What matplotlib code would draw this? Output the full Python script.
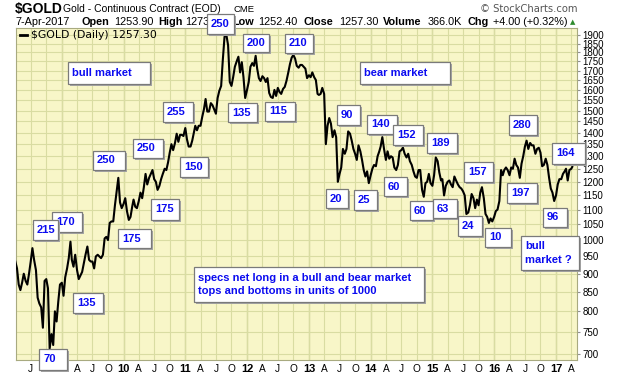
import matplotlib
matplotlib.use('Agg')
import matplotlib.pyplot as plt
from matplotlib.patches import Rectangle
from matplotlib.lines import Line2D
from matplotlib.ticker import FixedLocator, NullLocator
import pandas as pd

# Gold continuous contract, roughly the 1st, 11th and 21st of each month
gold_2008 = [935, 915, 870, 855, 875, 900, 880, 870, 900, 935, 975, 940,
             910, 835, 820, 810, 760, 880, 885, 860, 712, 745, 720, 800,
             775, 825, 870]
gold_2009 = [875, 840, 890, 915, 945, 995, 940, 920, 955, 910, 885, 895,
             905, 930, 955, 980, 940, 935, 935, 915, 950, 955, 950, 945,
             955, 1005, 1010, 1000, 1055, 1060, 1060, 1115, 1165, 1215, 1125, 1105]
gold_2010 = [1120, 1140, 1095, 1065, 1075, 1110, 1135, 1110, 1105, 1130, 1160, 1140,
             1180, 1230, 1190, 1215, 1230, 1245, 1210, 1200, 1170, 1185, 1210, 1230,
             1250, 1245, 1275, 1315, 1350, 1325, 1355, 1395, 1360, 1390, 1390, 1385]
gold_2011 = [1420, 1370, 1340, 1340, 1365, 1400, 1430, 1410, 1430, 1430, 1470, 1505,
             1555, 1495, 1495, 1535, 1525, 1505, 1485, 1560, 1595, 1620, 1760, 1890,
             1900, 1840, 1640, 1620, 1665, 1720, 1750, 1775, 1690, 1745, 1665, 1560]
gold_2012 = [1600, 1640, 1720, 1740, 1725, 1780, 1710, 1660, 1645, 1670, 1660, 1640,
             1660, 1585, 1565, 1560, 1600, 1570, 1610, 1590, 1580, 1605, 1615, 1645,
             1690, 1735, 1770, 1785, 1765, 1725, 1715, 1730, 1730, 1720, 1710, 1660]
gold_2013 = [1675, 1665, 1690, 1665, 1650, 1580, 1575, 1580, 1610, 1580, 1350, 1430,
             1465, 1440, 1380, 1410, 1380, 1200, 1230, 1255, 1330, 1310, 1330, 1405,
             1395, 1365, 1330, 1310, 1285, 1345, 1320, 1285, 1245, 1220, 1240, 1195]
gold_2014 = [1225, 1250, 1265, 1260, 1300, 1320, 1340, 1380, 1330, 1285, 1320, 1290,
             1300, 1295, 1255, 1245, 1265, 1320, 1325, 1335, 1310, 1295, 1310, 1280,
             1265, 1240, 1220, 1215, 1245, 1245, 1170, 1145, 1195, 1200, 1230, 1195]
gold_2015 = [1185, 1225, 1295, 1280, 1235, 1205, 1210, 1150, 1185, 1200, 1205, 1190,
             1180, 1220, 1205, 1190, 1180, 1175, 1165, 1150, 1085, 1090, 1115, 1155,
             1140, 1105, 1135, 1115, 1160, 1180, 1140, 1085, 1075, 1055, 1070, 1060]
gold_2016 = [1075, 1095, 1100, 1130, 1245, 1225, 1245, 1255, 1245, 1225, 1255, 1250,
             1290, 1265, 1255, 1215, 1270, 1300, 1340, 1365, 1330, 1355, 1345, 1345,
             1310, 1330, 1335, 1315, 1260, 1265, 1290, 1265, 1215, 1175, 1160, 1130]
gold_2017 = [1150, 1190, 1210, 1210, 1230, 1240, 1250, 1205, 1245, 1250, 1257.3]

prices = gold_2008 + gold_2009 + gold_2010 + gold_2011 + gold_2012 + \
    gold_2013 + gold_2014 + gold_2015 + gold_2016 + gold_2017
months = pd.date_range('2008-04-01', '2017-03-01', freq='MS')
dates = [m + pd.Timedelta(days=d) for m in months for d in (0, 10, 20)]
dates += [pd.Timestamp('2017-04-01'), pd.Timestamp('2017-04-07')]

# annotation boxes: text, then box in pixels (left, top, width, height)
box_texts = ['250', '200', '210', 'bull market', 'bear market', '255', '135', '115',
             '90', '140', '152', '189', '280', '164', '157', '250', '250', '150',
             '20', '25', '60', '60', '63', '24', '10', '197', '96', '175', '175',
             '170', '215', '135', '70', 'bull\nmarket ?',
             'specs net long in a bull and bear market\ntops and bottoms in units of 1000']
box_pos = [(207, 14, 27, 20), (243, 34, 26, 18), (285, 34, 28, 19), (68, 62, 82, 22),
           (360, 62, 90, 22), (163, 102, 30, 20), (228, 103, 29, 19), (265, 102, 30, 19),
           (337, 105, 23, 20), (367, 115, 30, 19), (393, 125, 30, 20), (427, 133, 30, 20),
           (509, 115, 28, 20), (552, 143, 33, 21), (464, 162, 29, 20), (93, 151, 32, 19),
           (133, 139, 30, 19), (180, 157, 28, 20), (326, 189, 22, 19), (354, 190, 23, 20),
           (384, 177, 23, 19), (410, 201, 23, 19), (433, 199, 24, 19), (458, 216, 24, 20),
           (485, 228, 26, 19), (507, 183, 30, 20), (543, 208, 24, 19), (151, 199, 28, 21),
           (118, 229, 33, 19), (52, 212, 30, 20), (33, 220, 25, 20), (73, 293, 30, 20),
           (39, 349, 28, 21), (521, 236, 58, 34), (194, 267, 230, 35)]

W, H = 620, 376
fig = plt.figure(figsize=(6.2, 3.76), dpi=100)
fig.patch.set_facecolor('white')


def fx(x):
    return x / W


def fy(y):
    return 1 - y / H


ax = fig.add_axes([fx(16), fy(360), (577 - 16) / W, (360 - 28) / H])
ax.set_facecolor('#f8f6c8')
ax.plot(dates, prices, color='black', lw=1.5, zorder=3)

ax.set_yscale('log')
ax.set_ylim(687, 1942)
ax.set_xlim(pd.Timestamp('2008-04-05'), pd.Timestamp('2017-05-05'))

yt = list(range(700, 1901, 50))
ax.yaxis.set_major_locator(FixedLocator(yt))
ax.yaxis.set_minor_locator(NullLocator())
ax.yaxis.tick_right()
ax.set_yticklabels([str(v) for v in yt], family='Liberation Sans', fontsize=7)
ax.tick_params(axis='y', direction='out', length=2, pad=2, color='#909090')

qtr = pd.date_range('2008-07-01', '2017-04-01', freq='QS')
xlabels = []
for d in qtr:
    if d.month == 1:
        xlabels.append(d.strftime('%y'))
    else:
        xlabels.append({4: 'A', 7: 'J', 10: 'O'}[d.month])
ax.xaxis.set_major_locator(FixedLocator([matplotlib.dates.date2num(d) for d in qtr]))
ax.xaxis.set_minor_locator(NullLocator())
ax.set_xticklabels(xlabels, family='Liberation Sans', fontsize=7.3)
for lab, d in zip(ax.get_xticklabels(), qtr):
    if d.month == 1:
        lab.set_fontweight('bold')
        lab.set_fontsize(8)
ax.tick_params(axis='x', length=0, pad=3)

ax.grid(True, color='#d9dca2', lw=0.8, zorder=1)
for d in qtr:
    if d.month == 1:
        ax.axvline(d, color='#bfc686', lw=0.9, zorder=1)
for s in ax.spines.values():
    s.set_color('#a8aa80')
    s.set_linewidth(0.8)

# legend line
fig.add_artist(Line2D([fx(20), fx(27)], [fy(35), fy(35)], color='black', lw=2))
fig.text(fx(31), fy(35), '$GOLD (Daily) 1257.30', fontsize=7.8, va='center',
         family='DejaVu Sans')

# header
fig.text(fx(15), fy(9), '$GOLD', fontsize=10, fontweight='bold', va='center',
         family='Liberation Sans')
fig.text(fx(63), fy(9), 'Gold - Continuous Contract (EOD)', fontsize=7.5, va='center',
         family='Liberation Sans')
fig.text(fx(233), fy(10), 'CME', fontsize=6.8, va='center', family='Liberation Sans')
fig.text(fx(577), fy(9), '\u00a9 StockCharts.com', fontsize=7.2, va='center', ha='right',
         color='#555555', family='DejaVu Sans')

row2 = [('7-Apr-2017', 16, 'normal'), ('Open', 82, 'bold'), ('1253.90', 114, 'normal'),
        ('High', 158, 'bold'), ('1273', 185, 'normal'), ('Low', 232, 'bold'),
        ('1252.40', 258, 'normal'), ('Close', 303, 'bold'), ('1257.30', 339, 'normal'),
        ('Volume', 383, 'bold'), ('366.0K', 428, 'normal'), ('Chg', 468, 'bold'),
        ('+4.00 (+0.32%)', 493, 'normal')]
for txt, x, wt in row2:
    fig.text(fx(x), fy(22), txt, fontsize=7.8, fontweight=wt, va='center',
             family='Liberation Sans')
fig.text(fx(570), fy(22), '\u25b2', fontsize=5, va='center', color='#2e8b2e',
         family='DejaVu Sans')

# annotation boxes
for i, (txt, (x, y, w, h)) in enumerate(zip(box_texts, box_pos)):
    z = 10 + i * 0.01
    fig.add_artist(Rectangle((fx(x + 2), fy(y + h + 2)), w / W, h / H,
                             transform=fig.transFigure, fc='#a5a5a5', ec='none', zorder=z))
    fig.add_artist(Rectangle((fx(x), fy(y + h)), w / W, h / H,
                             transform=fig.transFigure, fc='white', ec='#7a7a7a',
                             lw=0.9, zorder=z + 0.001))
    t = fig.text(fx(x + 4), fy(y + h / 2), txt, fontsize=8, fontweight='bold',
                 color='#0b0bf0', va='center', ha='left', family='Liberation Sans',
                 linespacing=1.45)
    t.set_zorder(z + 0.002)

fig.savefig('out.png', dpi=100)
